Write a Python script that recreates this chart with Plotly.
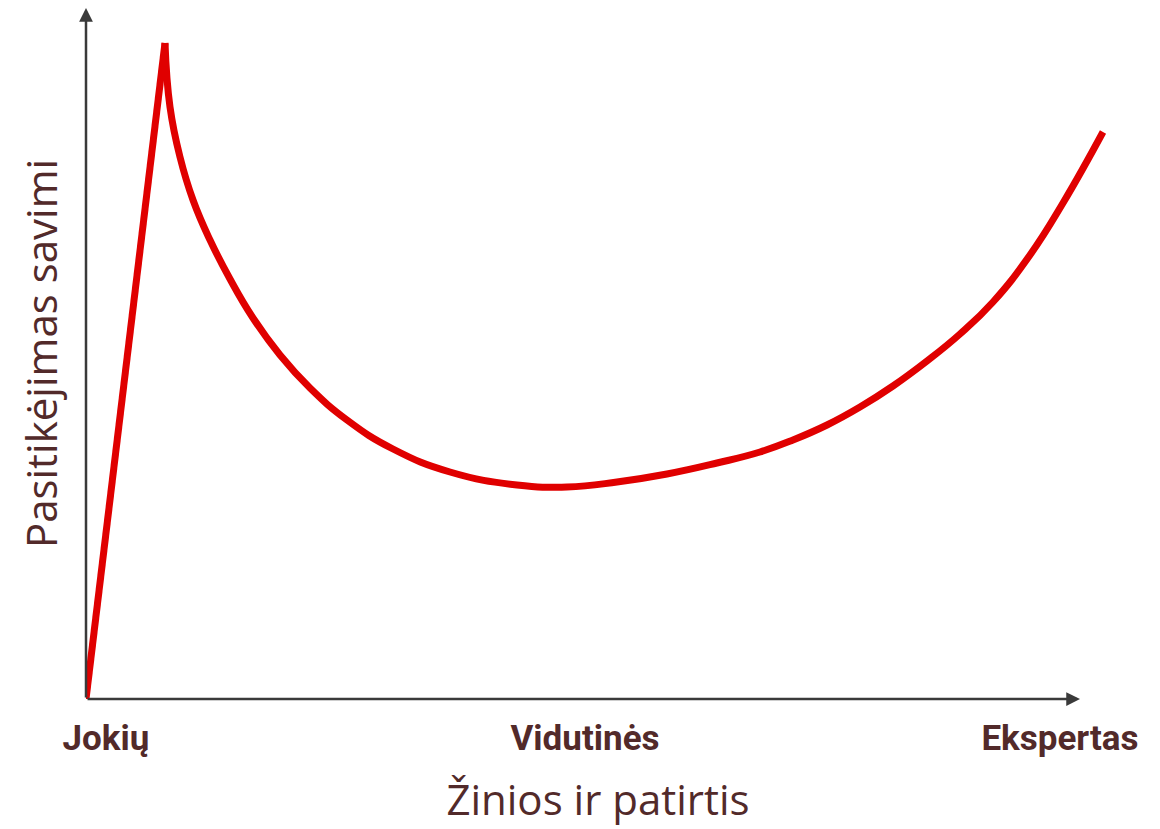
import plotly.graph_objects as go

# Data (knowledge vs. confidence)
knowledge = [0, 7.9, 8.4, 9.4, 10.7, 12.4, 14.4, 16.7, 19.4, 22.4, 26.1, 30.7, 36.4, 43.1,
             48.1, 53.1, 58.1, 63.1, 67.4, 70.7, 74.1, 77.4, 80.7, 84.1, 87.4, 90.7,
             94.4, 97.7, 101.7]
confidence = [0, 65.6, 59.2, 54.2, 49.9, 45.9, 42.0, 38.1, 34.4, 31.1, 27.9, 25.0, 22.7, 21.4,
              21.2, 21.7, 22.5, 23.6, 24.7, 25.9, 27.4, 29.2, 31.3, 33.8, 36.5, 39.7,
              44.4, 49.6, 56.7]
peak_index = 1

tick_labels = ["Jokių", "Vidutinės", "Ekspertas"]
tick_positions = [2.0, 49.9, 97.4]

x_title = "Žinios ir patirtis"
y_title = "Pasitikėjimas savimi"

RED = "#e00000"
TEXT = "#522a2a"
AXIS = "#3a3a3a"

fig = go.Figure()
# Rise to the peak (straight)
fig.add_trace(go.Scatter(
    x=knowledge[:peak_index + 1], y=confidence[:peak_index + 1],
    mode="lines", line=dict(color=RED, width=7, shape="linear"),
    hoverinfo="skip", showlegend=False))
# Fall and recovery (smooth)
fig.add_trace(go.Scatter(
    x=knowledge[peak_index:], y=confidence[peak_index:],
    mode="lines", line=dict(color=RED, width=7, shape="spline", smoothing=1.3),
    hoverinfo="skip", showlegend=False))

X_MAX = 102.4
Y_MAX = 69.1

# Axes as arrows
fig.add_annotation(x=99.4, y=0, ax=0, ay=0, xref="x", yref="y", axref="x", ayref="y",
                   showarrow=True, arrowhead=2, arrowsize=1.1, arrowwidth=2.5,
                   arrowcolor=AXIS, text="")
fig.add_annotation(x=0, y=Y_MAX, ax=0, ay=0, xref="x", yref="y", axref="x", ayref="y",
                   showarrow=True, arrowhead=2, arrowsize=1.1, arrowwidth=2.5,
                   arrowcolor=AXIS, text="")

fig.update_layout(
    width=1152, height=821,
    margin=dict(l=78, r=50, t=0, b=130, autoexpand=False),
    paper_bgcolor="white", plot_bgcolor="white",
    xaxis=dict(range=[0, X_MAX], showgrid=False, zeroline=False, showline=False,
               automargin=False,
               tickvals=tick_positions, ticktext=tick_labels, ticks="",
               tickfont=dict(family="Roboto", size=35, color=TEXT, weight="bold"),
               ticklabelstandoff=15,
               title=dict(text=x_title, standoff=27,
                          font=dict(family="Open Sans", size=42, color=TEXT))),
    yaxis=dict(range=[0, Y_MAX], showgrid=False, zeroline=False, showline=False,
               automargin=False,
               showticklabels=False, ticks="",
               title=dict(text=y_title, standoff=14,
                          font=dict(family="Open Sans", size=42, color=TEXT))),
)

fig.write_html("out.html")
